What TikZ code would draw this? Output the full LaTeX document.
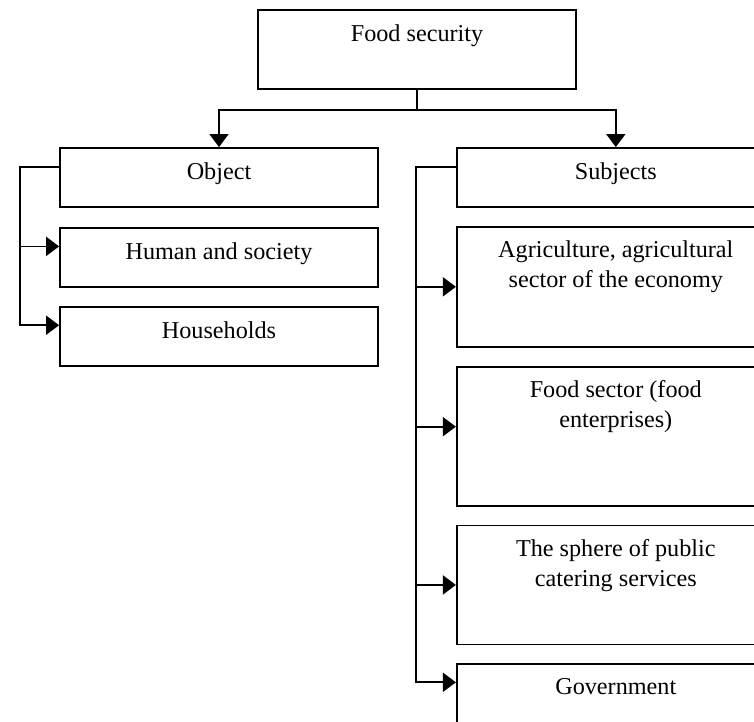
\documentclass[tikz,border=0pt]{standalone}
\usepackage{fontspec}
\setmainfont{Liberation Serif}
\usetikzlibrary{arrows.meta,positioning,calc}
\tikzset{
    block/.style={
        rectangle,
        draw=black,
        line width=1.8pt,
        minimum width=318pt,
        minimum height=59pt,
        inner sep=0pt,
    },
    blocktext/.style={
        anchor=north,
        yshift=-15pt,
        inner sep=0pt,
        align=center,
        font=\fontsize{24.2pt}{30pt}\selectfont,
    },
    link/.style={
        draw,
        line width=1.8pt,
    },
    linkarrow/.style={
        link,
        -{Triangle[length=13pt,width=19pt]},
    },
    node distance=18pt,
}
\begin{document}
\begin{tikzpicture}[x=1pt,y=-1pt]
\useasboundingbox (0,0) rectangle (754,721);
% top level
\node [block, minimum height=79pt, label={[blocktext]north:Food security}] (FS) at (417,49.5) {};
\node [block, label={[blocktext]north:Object}] (OBJ) at (219,177.5) {};
\node [block, right=77pt of OBJ, label={[blocktext]north:Subjects}] (SUBJ) {};
% object side
\node [block, below=19.5pt of OBJ, label={[blocktext]north:Human and society}] (HUM) {};
\node [block, below=of HUM, label={[blocktext]north:Households}] (HH) {};
% subjects side
\node [block, below=of SUBJ, minimum height=120pt, label={[blocktext]north:{Agriculture, agricultural\\sector of the economy}}] (AGR) {};
\node [block, below=of AGR, minimum height=139pt, label={[blocktext]north:{Food sector (food\\enterprises)}}] (FSEC) {};
\node [block, below=of FSEC, minimum height=119pt, label={[blocktext]north:{The sphere of public\\catering services}}] (CAT) {};
\node [block, below=of CAT, minimum height=80pt, label={[blocktext]north:Government}] (GOV) {};
% connectors
\draw [linkarrow] (FS.south) -- ++(0,20) -| (OBJ.north);
\draw [linkarrow] (FS.south) -- ++(0,20) -| (SUBJ.north);
\coordinate (oTop) at ($(OBJ.north west)+(0,20)$);
\coordinate (oBar) at ($(oTop)+(-39,0)$);
\coordinate (oHUM) at ($(HUM.north west)+(0,19)$);
\coordinate (oHH) at ($(HH.north west)+(0,19)$);
\draw [linkarrow] (oTop) -- (oBar) |- (oHH);
\draw [linkarrow] (oBar |- oHUM) -- (oHUM);
\coordinate (sTop) at ($(SUBJ.north west)+(0,20)$);
\coordinate (sBar) at ($(sTop)+(-40,0)$);
\coordinate (sFSEC) at ($(FSEC.north west)+(0,61)$);
\coordinate (sGOV) at ($(GOV.north west)+(0,19)$);
\draw [linkarrow] (sTop) -- (sBar) |- (sGOV);
\draw [linkarrow] (sBar |- AGR.west) -- (AGR.west);
\draw [linkarrow] (sBar |- sFSEC) -- (sFSEC);
\draw [linkarrow] (sBar |- CAT.west) -- (CAT.west);
\end{tikzpicture}
\end{document}
